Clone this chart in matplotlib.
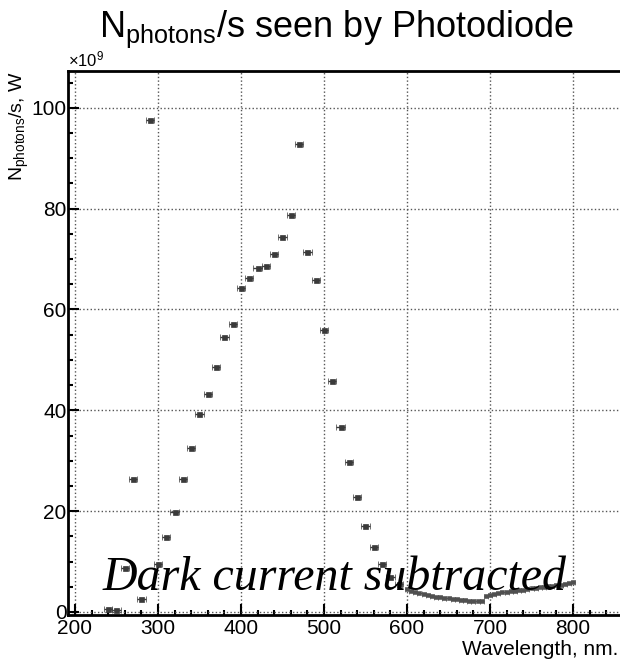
import matplotlib
matplotlib.use("Agg")
import matplotlib.pyplot as plt
from matplotlib.ticker import MultipleLocator

plt.rcParams['font.family'] = ['Liberation Sans', 'DejaVu Sans']
plt.rcParams['mathtext.default'] = 'regular'

# coarse scan (10 nm steps)
wl_coarse = [240, 250, 260, 270, 280, 290, 300, 310, 320, 330, 340, 350, 360, 370,
             380, 390, 400, 410, 420, 430, 440, 450, 460, 470, 480, 490, 500, 510,
             520, 530, 540, 550, 560, 570, 580, 590]
n_coarse = [0.5, 0.4, 8.8, 26.4, 2.6, 97.6, 9.6, 14.8, 19.8, 26.4, 32.6, 39.2, 43.2, 48.5,
            54.5, 57.2, 64.2, 66.2, 68.2, 68.6, 71.1, 74.4, 78.7, 92.8, 71.4, 65.9, 55.9, 45.9,
            36.6, 29.7, 22.9, 17.0, 12.9, 9.5, 7.0, 5.5]
err_coarse = 5.0

# fine scan (5 nm steps)
wl_fine = [600, 605, 610, 615, 620, 625, 630, 635, 640, 645, 650, 655, 660, 665, 670,
           675, 680, 685, 690, 695, 700, 705, 710, 715, 720, 725, 730, 735, 740, 745,
           750, 755, 760, 765, 770, 775, 780, 785, 790, 795, 800]
n_fine = [4.6, 4.2, 3.9, 3.7, 3.5, 3.3, 3.1, 3.0, 2.9, 2.8, 2.7, 2.6, 2.5, 2.4, 2.3,
          2.2, 2.2, 2.1, 2.1, 3.2, 3.4, 3.6, 3.8, 3.9, 4.0, 4.1, 4.2, 4.3, 4.4, 4.6,
          4.7, 4.8, 4.9, 5.0, 5.1, 5.2, 5.3, 5.4, 5.6, 5.8, 6.0]
err_fine = 2.5

W, H = 620, 665
fig = plt.figure(figsize=(W / 100, H / 100), dpi=100)
ax = fig.add_axes([68 / W, (H - 615) / H, (W - 68) / W, (615 - 71) / H])

mcol = '#3a3a3a'
ax.errorbar(wl_coarse, n_coarse, xerr=err_coarse, fmt='s', ms=3.6, color=mcol,
            ecolor=mcol, elinewidth=1.0, capsize=2.4, capthick=1.0, mew=0.5, zorder=3)
ax.errorbar(wl_fine, n_fine, xerr=err_fine, fmt='s', ms=3.0, color='#505050',
            ecolor='#505050', elinewidth=0.9, capsize=1.8, capthick=0.9, mew=0.4, zorder=3)

ax.set_xlim(191.6, 856.6)
ax.set_ylim(-0.6, 107.3)

ax.xaxis.set_major_locator(MultipleLocator(100))
ax.xaxis.set_minor_locator(MultipleLocator(20))
ax.yaxis.set_major_locator(MultipleLocator(20))
ax.yaxis.set_minor_locator(MultipleLocator(5))

ax.grid(True, which='major', linestyle=':', color='#555555', linewidth=1.0)
ax.set_axisbelow(True)

ax.tick_params(which='both', direction='in', top=False, right=False,
               labelsize=15, color='black', width=1.5)
ax.tick_params(which='major', length=8)
ax.tick_params(which='minor', length=3.6)
ax.tick_params(axis='x', pad=3)
ax.tick_params(axis='y', pad=1)

for s in ['left', 'bottom', 'top']:
    ax.spines[s].set_linewidth(2.0)
ax.spines['right'].set_visible(False)

# title
fig.text(337 / W, (H - 37) / H, r'$N_{photons}$/s seen by Photodiode',
         ha='center', va='baseline', fontsize=26)
# exponent
fig.text(68 / W, (H - 66) / H, r'$\times10^{9}$', ha='left', va='baseline', fontsize=12)
# y label
fig.text(31 / W, (H - 71) / H, r'$N_{photons}$/s, W', rotation=90,
         ha='right', va='top', fontsize=14)
# x label
fig.text(618 / W, (H - 655) / H, 'Wavelength, nm.', ha='right', va='baseline',
         fontsize=15)
# annotation
fig.text(103 / W, (H - 590) / H, 'Dark current subtracted', ha='left', va='baseline',
         fontsize=34.5, family=['Liberation Serif', 'DejaVu Serif'], style='italic')

fig.savefig('out.png', dpi=100)
